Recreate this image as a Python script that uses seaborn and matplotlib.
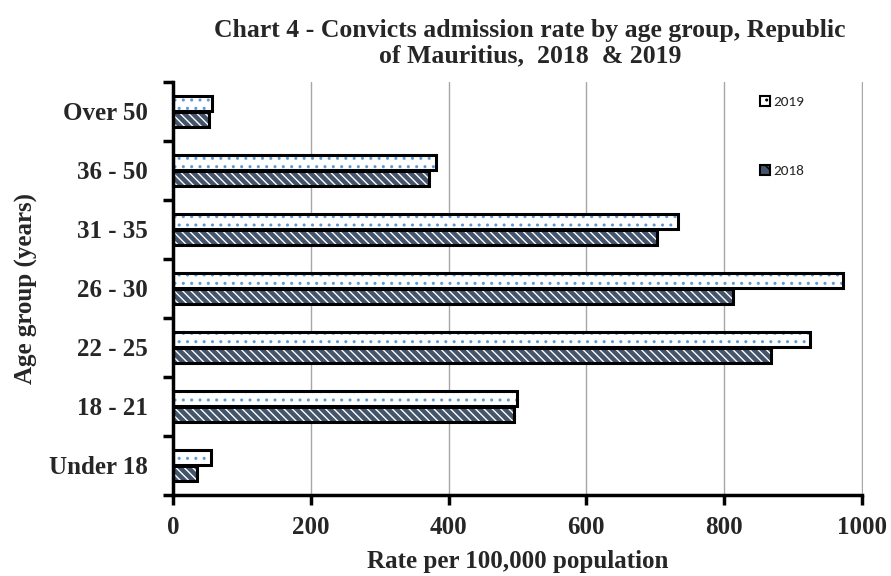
import pandas as pd
import seaborn as sns
import matplotlib
matplotlib.use("Agg")
import matplotlib.pyplot as plt
from matplotlib.patches import Rectangle

# values (rate per 100,000 population)
age_groups = ["Over 50", "36 - 50", "31 - 35", "26 - 30", "22 - 25", "18 - 21", "Under 18"]
rate_2019 = [57, 382, 733, 973, 925, 500, 56]
rate_2018 = [53, 371, 703, 813, 868, 495, 35]
years = ["2019", "2018"]
x_ticks = [0, 200, 400, 600, 800, 1000]

df = pd.DataFrame({
    "Age": age_groups * 2,
    "Rate": rate_2019 + rate_2018,
    "Year": ["2019"] * len(age_groups) + ["2018"] * len(age_groups),
})

sns.set_style("white")
serif = ["Liberation Serif", "DejaVu Serif"]

fig = plt.figure(figsize=(8.91, 5.76), dpi=100)
ax = fig.add_axes([0.194, 0.141, 0.775, 0.717])

sns.barplot(data=df, y="Age", x="Rate", hue="Year", order=age_groups,
            hue_order=years, orient="h", width=0.54, ax=ax, legend=False,
            saturation=1, gap=0.06)

# restyle bars: 2019 dotted, 2018 dark with white diagonals, black outline
n = len(age_groups)
for i, bar in enumerate(ax.patches[:2 * n]):
    x0, y0 = bar.get_x(), bar.get_y()
    w, h = bar.get_width(), bar.get_height()
    if i < n:
        bar.set_facecolor("white")
        bar.set_edgecolor("#5b9bd5")
        bar.set_hatch("..")
    else:
        bar.set_facecolor("#44546a")
        bar.set_edgecolor("white")
        bar.set_hatch("\\\\\\\\")
    bar.set_linewidth(0)
    ax.add_patch(Rectangle((x0, y0), w, h, fill=False, edgecolor="black",
                           linewidth=2.2, zorder=3))

# a hair past 1000 so the last gridline is not clipped away
ax.set_xlim(0, 1002)
ax.set_ylim(n - 0.5, -0.5)
ax.set_xticks(x_ticks)
ax.set_xticklabels([str(t) for t in x_ticks], fontfamily=serif,
                   fontweight="bold", fontsize=18)
ax.set_yticks(range(n))
ax.set_yticklabels(age_groups, fontfamily=serif, fontweight="bold", fontsize=18)
ax.set_yticks([k - 0.5 for k in range(n + 1)], minor=True)
ax.tick_params(axis="y", which="major", length=0, pad=18)
ax.tick_params(axis="y", which="minor", length=7, width=2.5, color="black",
               direction="out", left=True)
ax.tick_params(axis="x", which="major", length=7, width=2.5, color="black",
               direction="out", bottom=True, pad=8)

ax.grid(axis="x", color="#a6a6a6", linewidth=1)
ax.set_axisbelow(True)
for side in ["top", "right"]:
    ax.spines[side].set_visible(False)
for side in ["left", "bottom"]:
    ax.spines[side].set_color("black")
    ax.spines[side].set_linewidth(2.5)
ax.spines["bottom"].set_bounds(0, 1000)

ax.set_xlabel("Rate per 100,000 population", fontfamily=serif,
              fontweight="bold", fontsize=18, labelpad=8)
ax.set_ylabel("Age group (years)", fontfamily=serif, fontweight="bold",
              fontsize=18, labelpad=8)

fig.text(0.595, 0.925,
         "Chart 4 - Convicts admission rate by age group, Republic\nof Mauritius,  2018  & 2019",
         ha="center", va="center", fontfamily=serif, fontweight="bold",
         fontsize=18.5, linespacing=1.15)

# legend
h19 = Rectangle((0, 0), 1, 1, facecolor="white", edgecolor="#5b9bd5", hatch="..", linewidth=0)
h18 = Rectangle((0, 0), 1, 1, facecolor="#44546a", edgecolor="white", hatch="\\\\", linewidth=0)
leg = ax.legend([h19, h18], years, loc="upper left", bbox_to_anchor=(0.83, 1.0),
                frameon=False, handlelength=0.7, handleheight=0.7,
                handletextpad=0.2, labelspacing=3.7,
                prop={"family": ["Carlito", "Lato", "DejaVu Sans"], "size": 11})
for p in leg.get_patches():
    p.set_edgecolor("black")
    p.set_linewidth(1.5)

fig.savefig("out.png", dpi=100)
